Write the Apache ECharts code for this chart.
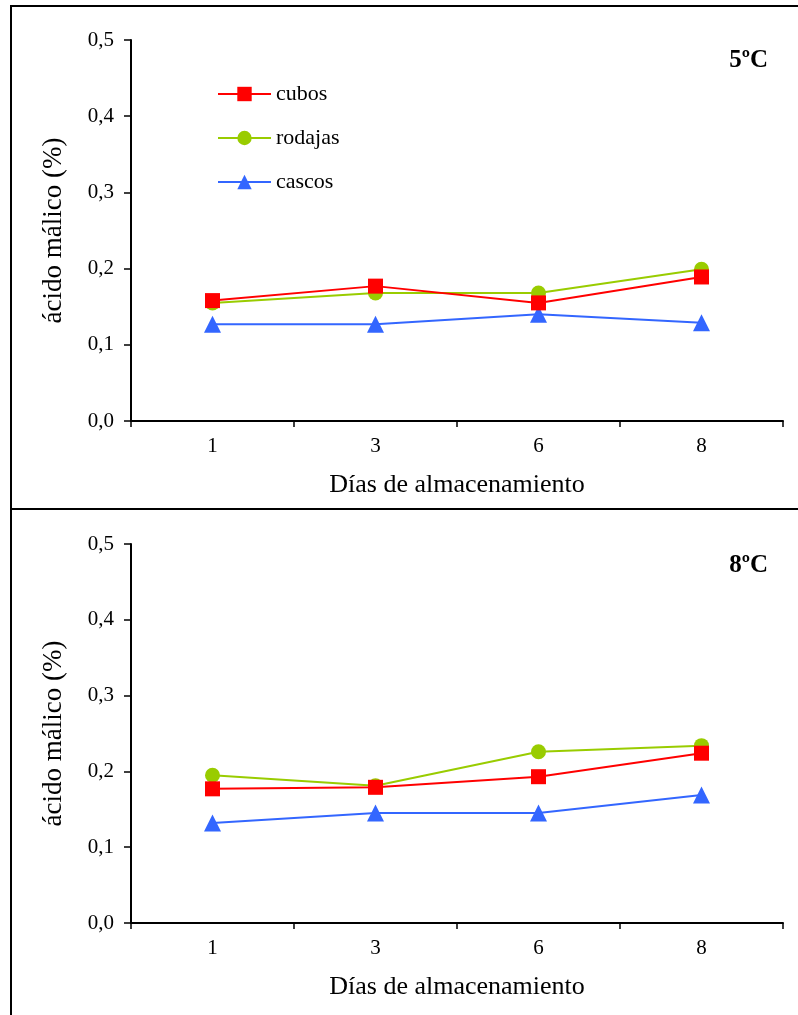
<!DOCTYPE html>
<html><head><meta charset="utf-8">
<script src="https://cdn.jsdelivr.net/npm/echarts@6/dist/echarts.min.js"></script>
<style>html,body{margin:0;padding:0;background:#fff}#c{width:798px;height:1015px}</style>
</head><body><div id="c"></div>
<script>
const days = ['1','3','6','8'];
const seriesNames = ['cubos','rodajas','cascos'];
const panelTitles = ['5ºC','8ºC'];
const cubos5 = [0.158, 0.177, 0.155, 0.189];
const rodajas5 = [0.155, 0.168, 0.168, 0.199];
const cascos5 = [0.127, 0.127, 0.140, 0.129];
const cubos8 = [0.177, 0.179, 0.193, 0.224];
const rodajas8 = [0.195, 0.181, 0.226, 0.234];
const cascos8 = [0.132, 0.145, 0.145, 0.169];
const yTickMax = 0.5, yTickStep = 0.1;

const FONT = '"Liberation Serif", "Times New Roman", serif';
const colors = ['#FF0000', '#99CC00', '#3366FF'];
const symbols = ['rect', 'circle', 'triangle'];
const sizes = [15, 15, 17];
const panelData = [[cubos5, rodajas5, cascos5], [cubos8, rodajas8, cascos8]];
const grids = [
  {left: 131, top: 40, width: 652, height: 381},
  {left: 131, top: 544, width: 652, height: 379}
];

const xAxis = [], yAxis = [], series = [];
grids.forEach((g, i) => {
  xAxis.push({
    type: 'category', gridIndex: i, data: days, boundaryGap: true,
    axisLine: {lineStyle: {color: '#000', width: 2}},
    axisTick: {show: true, length: 6, lineStyle: {color: '#000', width: 1.5}},
    axisLabel: {color: '#000', fontFamily: FONT, fontSize: 21, margin: 15},
    name: 'Días de almacenamiento', nameLocation: 'middle', nameGap: 51,
    nameTextStyle: {color: '#000', fontFamily: FONT, fontSize: 26}
  });
  yAxis.push({
    type: 'value', gridIndex: i, min: 0, max: yTickMax, interval: yTickStep,
    splitLine: {show: false},
    axisLine: {show: true, lineStyle: {color: '#000', width: 2}},
    axisTick: {show: true, length: 7, lineStyle: {color: '#000', width: 1.5}},
    axisLabel: {color: '#000', fontFamily: FONT, fontSize: 21, margin: 17,
      formatter: v => v.toFixed(1).replace('.', ',')},
    name: 'ácido málico (%)', nameLocation: 'middle', nameGap: 64,
    nameTextStyle: {color: '#000', fontFamily: FONT, fontSize: 27}
  });
  seriesNames.forEach((n, k) => {
    series.push({
      name: n, type: 'line', xAxisIndex: i, yAxisIndex: i,
      data: panelData[i][k], symbol: symbols[k], symbolSize: sizes[k],
      lineStyle: {color: colors[k], width: 2},
      itemStyle: {color: colors[k]}, z: 5 - k
    });
  });
});

const chart = echarts.init(document.getElementById('c'), null, {renderer: 'canvas'});
chart.setOption({
  animation: false,
  backgroundColor: '#fff',
  grid: grids,
  xAxis, yAxis, series,
  legend: {
    orient: 'vertical', left: 212, top: 78, itemWidth: 53, itemHeight: 18, itemGap: 22,
    data: seriesNames,
    textStyle: {color: '#000', fontFamily: FONT, fontSize: 22}
  },
  title: panelTitles.map((t, i) => ({
    text: t, right: 25, top: i === 0 ? 43 : 548,
    textStyle: {color: '#000', fontFamily: FONT, fontSize: 25, fontWeight: 'bold'}
  })),
  graphic: [
    {type: 'rect', shape: {x: 11, y: 6, width: 800, height: 1020}, style: {fill: 'none', stroke: '#000', lineWidth: 2}},
    {type: 'line', shape: {x1: 11, y1: 509, x2: 800, y2: 509}, style: {stroke: '#000', lineWidth: 2}}
  ]
});
</script></body></html>
